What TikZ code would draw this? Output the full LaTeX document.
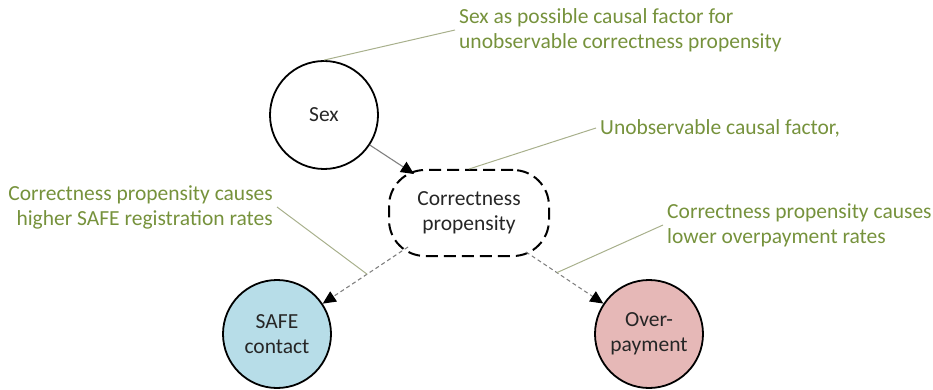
\documentclass[tikz,border=0pt]{standalone}
\usepackage{fontspec}
\setmainfont{Carlito}
\usetikzlibrary{arrows.meta,calc}
\definecolor{annogreen}{RGB}{118,146,60}
\definecolor{calloutc}{RGB}{168,176,140}
\definecolor{safefill}{RGB}{183,221,232}
\definecolor{overfill}{RGB}{230,184,183}
\definecolor{nodetext}{RGB}{38,38,38}
\begin{document}
\begin{tikzpicture}[x=1pt,y=-1pt,
  font=\fontsize{21.5}{25}\selectfont,
  circnode/.style={circle,draw=black,line width=1.8pt,minimum size=108pt,inner sep=0pt,align=center,text=nodetext},
  latent/.style={rectangle,rounded corners=36pt,draw=black,line width=2pt,dash pattern=on 12pt off 6pt,minimum width=160pt,minimum height=86pt,align=center,text=nodetext},
  causal/.style={draw=gray,line width=1.1pt,-{Triangle[length=13pt,width=12pt,color=black]}},
  weak/.style={causal,dash pattern=on 4pt off 3pt},
  annot/.style={text=annogreen,align=left,inner sep=4pt},
  callout/.style={draw=calloutc,line width=1pt}]
\useasboundingbox (0,0) rectangle (933,390);
\node[circnode] (sex) at (324,115) {Sex};
\node[latent] (cp) at (469,213) {Correctness\\propensity};
\node[circnode,fill=safefill] (safe) at (277,334) {SAFE\\contact};
\node[circnode,fill=overfill] (over) at (649,334) {Over-\\payment};
\coordinate (cpin) at ($(cp.center)+(-55,-39)$);
\coordinate (cpsw) at ($(cp.center)+(-61,34)$);
\coordinate (cpse) at ($(cp.center)+(57,39)$);
\draw[causal] (sex) -- (cpin);
\draw[weak] (cpsw) -- (safe) coordinate[pos=0.48] (msafe);
\draw[weak] (cpse) -- (over) coordinate[pos=0.4] (mover);
\node[annot,anchor=west] (a1) at (455,30) {Sex as possible causal factor for\\unobservable correctness propensity};
\draw[callout] (a1.west) -- (sex.north);
\node[annot,anchor=west] (a2) at (596,128) {Unobservable causal factor,};
\draw[callout] (a2.west) -- (cp.north);
\node[annot,anchor=east,align=right] (a3) at (277,207) {Correctness propensity causes\\higher SAFE registration rates};
\draw[callout] (a3.east) -- (msafe);
\node[annot,anchor=west] (a4) at (663,225) {Correctness propensity causes\\lower overpayment rates};
\draw[callout] (a4.west) -- (mover);
\end{tikzpicture}
\end{document}
